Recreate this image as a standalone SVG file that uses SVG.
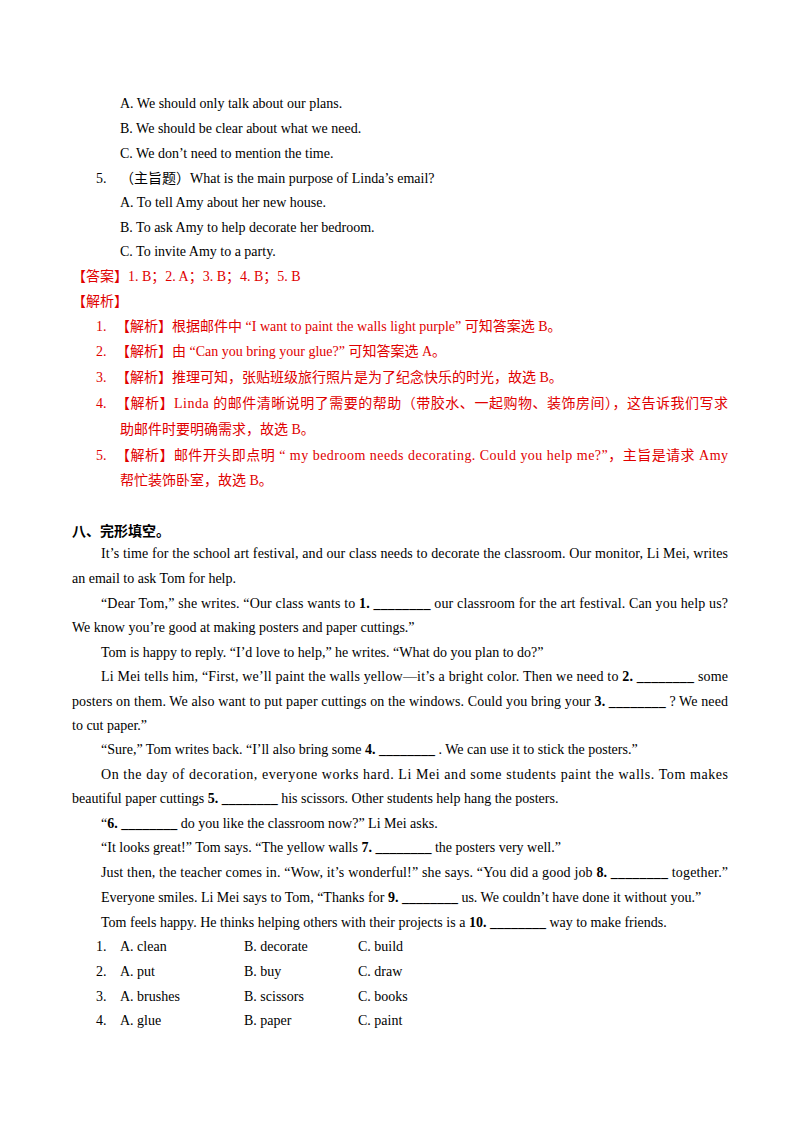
<svg xmlns="http://www.w3.org/2000/svg" width="800" height="1132" viewBox="0 0 800 1132">
<style>
text{font-family:"Liberation Serif","Noto Sans CJK SC",serif;font-size:14px;fill:#000}
.r{fill:#e00000}
.b{font-weight:bold}
</style>
<rect width="800" height="1132" fill="#fff"/>
<text x="120" y="108">A. We should only talk about our plans.</text>
<text x="120" y="133">B. We should be clear about what we need.</text>
<text x="120" y="158">C. We don’t need to mention the time.</text>
<text x="96" y="183">5.</text>
<text x="120" y="183">（主旨题）What is the main purpose of Linda’s email?</text>
<text x="120" y="207">A. To tell Amy about her new house.</text>
<text x="120" y="232">B. To ask Amy to help decorate her bedroom.</text>
<text x="120" y="256">C. To invite Amy to a party.</text>
<text class="r" x="72" y="281">【答案】1. B；2. A；3. B；4. B；5. B</text>
<text class="r" x="72" y="306">【解析】</text>
<text class="r" x="96" y="331">1.</text>
<text class="r" x="116" y="331">【解析】根据邮件中 “I want to paint the walls light purple” 可知答案选 B。</text>
<text class="r" x="96" y="356">2.</text>
<text class="r" x="116" y="356">【解析】由 “Can you bring your glue?” 可知答案选 A。</text>
<text class="r" x="96" y="382">3.</text>
<text class="r" x="116" y="382">【解析】推理可知，张贴班级旅行照片是为了纪念快乐的时光，故选 B。</text>
<text class="r" x="96" y="408">4.</text>
<text class="r" x="116" y="408" textLength="612" lengthAdjust="spacing">【解析】Linda 的邮件清晰说明了需要的帮助（带胶水、一起购物、装饰房间），这告诉我们写求</text>
<text class="r" x="120" y="434">助邮件时要明确需求，故选 B。</text>
<text class="r" x="96" y="460">5.</text>
<text class="r" x="116" y="460" textLength="612" lengthAdjust="spacing">【解析】邮件开头即点明 “ my bedroom needs decorating. Could you help me?”，主旨是请求 Amy</text>
<text class="r" x="120" y="485">帮忙装饰卧室，故选 B。</text>
<text class="b" x="72" y="536">八、完形填空。</text>
<text x="101" y="558" textLength="627" lengthAdjust="spacing">It’s time for the school art festival, and our class needs to decorate the classroom. Our monitor, Li Mei, writes</text>
<text x="72" y="583">an email to ask Tom for help.</text>
<text x="101" y="608" textLength="627" lengthAdjust="spacing">“Dear Tom,” she writes. “Our class wants to <tspan class="b">1. ________</tspan> our classroom for the art festival. Can you help us?</text>
<text x="72" y="632">We know you’re good at making posters and paper cuttings.”</text>
<text x="101" y="657">Tom is happy to reply. “I’d love to help,” he writes. “What do you plan to do?”</text>
<text x="101" y="681" textLength="627" lengthAdjust="spacing">Li Mei tells him, “First, we’ll paint the walls yellow—it’s a bright color. Then we need to <tspan class="b">2. ________</tspan> some</text>
<text x="72" y="706" textLength="656" lengthAdjust="spacing">posters on them. We also want to put paper cuttings on the windows. Could you bring your <tspan class="b">3. ________</tspan> ? We need</text>
<text x="72" y="730">to cut paper.”</text>
<text x="101" y="754">“Sure,” Tom writes back. “I’ll also bring some <tspan class="b">4. ________</tspan> . We can use it to stick the posters.”</text>
<text x="101" y="779" textLength="627" lengthAdjust="spacing">On the day of decoration, everyone works hard. Li Mei and some students paint the walls. Tom makes</text>
<text x="72" y="803">beautiful paper cuttings <tspan class="b">5. ________</tspan> his scissors. Other students help hang the posters.</text>
<text x="101" y="828">“<tspan class="b">6. ________</tspan> do you like the classroom now?” Li Mei asks.</text>
<text x="101" y="852">“It looks great!” Tom says. “The yellow walls <tspan class="b">7. ________</tspan> the posters very well.”</text>
<text x="101" y="877" textLength="627" lengthAdjust="spacing">Just then, the teacher comes in. “Wow, it’s wonderful!” she says. “You did a good job <tspan class="b">8. ________</tspan> together.”</text>
<text x="101" y="902">Everyone smiles. Li Mei says to Tom, “Thanks for <tspan class="b">9. ________</tspan> us. We couldn’t have done it without you.”</text>
<text x="101" y="927">Tom feels happy. He thinks helping others with their projects is a <tspan class="b">10. ________</tspan> way to make friends.</text>
<g>
<text x="96" y="951">1.</text><text x="120" y="951">A. clean</text><text x="244" y="951">B. decorate</text><text x="358" y="951">C. build</text>
<text x="96" y="976">2.</text><text x="120" y="976">A. put</text><text x="244" y="976">B. buy</text><text x="358" y="976">C. draw</text>
<text x="96" y="1001">3.</text><text x="120" y="1001">A. brushes</text><text x="244" y="1001">B. scissors</text><text x="358" y="1001">C. books</text>
<text x="96" y="1025">4.</text><text x="120" y="1025">A. glue</text><text x="244" y="1025">B. paper</text><text x="358" y="1025">C. paint</text>
</g>
</svg>
